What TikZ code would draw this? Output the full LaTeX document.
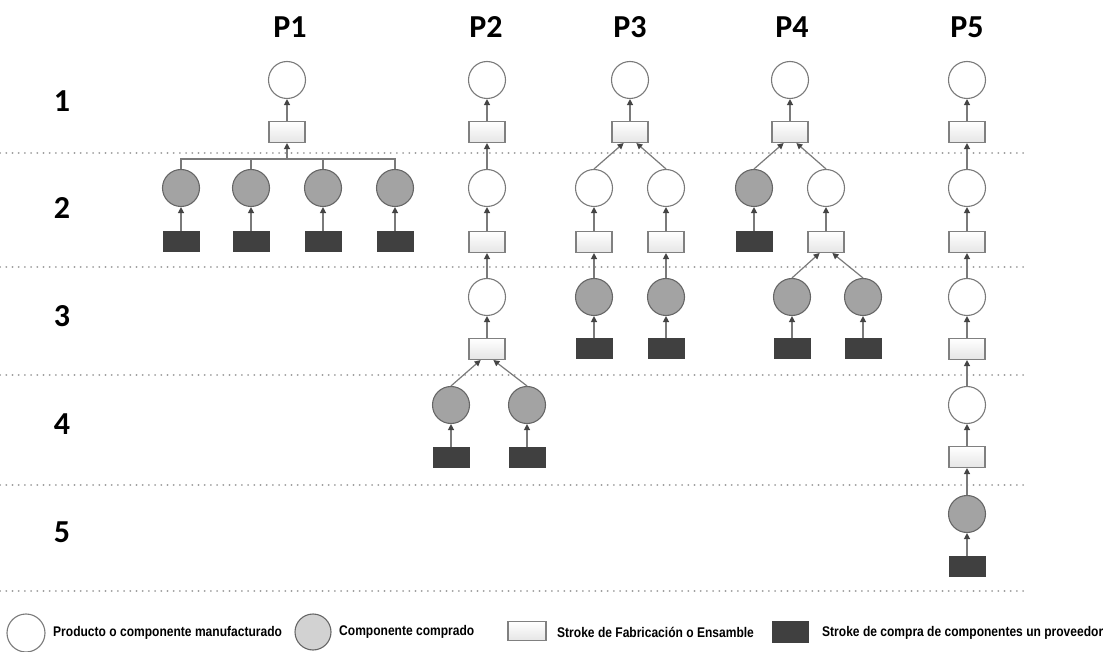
\documentclass[tikz,border=0pt]{standalone}
\usepackage{fontspec}
\setmainfont{Liberation Sans}
\newfontfamily\hdfont{Carlito}
\newfontfamily\lgfont[FakeStretch=0.86]{Liberation Sans}
\usetikzlibrary{arrows.meta}

\definecolor{lineGray}{HTML}{7A7A7A}
\definecolor{tipGray}{HTML}{444444}
\definecolor{buyGray}{HTML}{A3A3A3}
\definecolor{provGray}{HTML}{404040}
\definecolor{sepGray}{HTML}{A0A0A0}

\begin{document}
\begin{tikzpicture}[x=1pt,y=-1pt,
  mfg/.style={circle, draw=lineGray, line width=1.1pt, fill=white, minimum size=37pt, inner sep=0pt},
  buy/.style={circle, draw=gray!80!black, line width=1.1pt, fill=buyGray, minimum size=37pt, inner sep=0pt},
  fab/.style={rectangle, draw=gray, line width=1.1pt, top color=white, bottom color=gray!20, minimum width=36pt, minimum height=21pt, inner sep=0pt},
  prov/.style={rectangle, draw=black!75, line width=1pt, fill=provGray, minimum width=36pt, minimum height=20pt, inner sep=0pt},
  arr/.style={draw=lineGray, line width=1.2pt, -{Triangle[length=6pt,width=6pt,color=tipGray]}},
  bus/.style={draw=lineGray, line width=1.2pt},
  sep/.style={draw=sepGray, line width=1.8pt, line cap=round, dash pattern=on 0.2pt off 6pt},
  hd/.style={font=\hdfont\bfseries\fontsize{32}{36}\selectfont, anchor=base, inner sep=0pt},
  lg/.style={font=\lgfont\bfseries\fontsize{14}{16}\selectfont, anchor=base west, inner sep=0pt}]
\useasboundingbox (0,0) rectangle (1109,652);

% level separators
\draw[sep] (0,153) -- (1028,153);
\draw[sep] (0,267) -- (1028,267);
\draw[sep] (0,375) -- (1028,375);
\draw[sep] (0,485) -- (1028,485);
\draw[sep] (0,591) -- (1028,591);

% headers
\node[hd] (h1) at (290,38) {P1};
\node[hd] (h2) at (486,38) {P2};
\node[hd] (h3) at (630,38) {P3};
\node[hd] (h4) at (792,38) {P4};
\node[hd] (h5) at (967,38) {P5};
\node[hd] (l1) at (62,112) {1};
\node[hd] (l2) at (62,219) {2};
\node[hd] (l3) at (62,327) {3};
\node[hd] (l4) at (62,434) {4};
\node[hd] (l5) at (62,542) {5};

% P1
\node[mfg] (p1c1) at (287,80) {};
\node[fab] (p1r1) at (287,132) {};
\coordinate (p1bus) at (287,159);
\node[buy] (p1g1) at (181,188) {};
\node[buy] (p1g2) at (251,188) {};
\node[buy] (p1g3) at (323,188) {};
\node[buy] (p1g4) at (395,188) {};
\node[prov] (p1b1) at (181,242) {};
\node[prov] (p1b2) at (251,242) {};
\node[prov] (p1b3) at (323,242) {};
\node[prov] (p1b4) at (395,242) {};
\draw[arr](p1r1) -- (p1c1);
\draw[arr](p1bus) -- (p1r1);
\draw[bus](p1g1.north) |- (p1bus);
\draw[bus](p1g2.north) |- (p1bus);
\draw[bus](p1g3.north) |- (p1bus);
\draw[bus](p1g4.north) |- (p1bus);
\draw[arr](p1b1) -- (p1g1);
\draw[arr](p1b2) -- (p1g2);
\draw[arr](p1b3) -- (p1g3);
\draw[arr](p1b4) -- (p1g4);

% P2
\node[mfg] (p2c1) at (487,80) {};
\node[fab] (p2r1) at (487,132) {};
\node[mfg] (p2c2) at (487,188) {};
\node[fab] (p2r2) at (487,242) {};
\node[mfg] (p2c3) at (487,297) {};
\node[fab] (p2r3) at (487,349) {};
\node[buy] (p2g1) at (451,405) {};
\node[buy] (p2g2) at (527,405) {};
\node[prov] (p2b1) at (451,457) {};
\node[prov] (p2b2) at (527,457) {};
\draw[arr](p2r1) -- (p2c1);
\draw[arr](p2c2) -- (p2r1);
\draw[arr](p2r2) -- (p2c2);
\draw[arr](p2c3) -- (p2r2);
\draw[arr](p2r3) -- (p2c3);
\draw[arr](p2g1.north) -- (p2r3.240);
\draw[arr](p2g2.north) -- (p2r3.300);
\draw[arr](p2b1) -- (p2g1);
\draw[arr](p2b2) -- (p2g2);

% P3
\node[mfg] (p3c1) at (630,80) {};
\node[fab] (p3r1) at (630,132) {};
\node[mfg] (p3c2) at (594,188) {};
\node[mfg] (p3c3) at (666,188) {};
\node[fab] (p3r2) at (594,242) {};
\node[fab] (p3r3) at (666,242) {};
\node[buy] (p3g1) at (594,297) {};
\node[buy] (p3g2) at (666,297) {};
\node[prov] (p3b1) at (594,349) {};
\node[prov] (p3b2) at (666,349) {};
\draw[arr](p3r1) -- (p3c1);
\draw[arr](p3c2.north) -- (p3r1.240);
\draw[arr](p3c3.north) -- (p3r1.300);
\draw[arr](p3r2) -- (p3c2);
\draw[arr](p3r3) -- (p3c3);
\draw[arr](p3g1) -- (p3r2);
\draw[arr](p3g2) -- (p3r3);
\draw[arr](p3b1) -- (p3g1);
\draw[arr](p3b2) -- (p3g2);

% P4
\node[mfg] (p4c1) at (790,80) {};
\node[fab] (p4r1) at (790,132) {};
\node[buy] (p4g1) at (754,188) {};
\node[prov] (p4b1) at (754,242) {};
\node[mfg] (p4c2) at (826,188) {};
\node[fab] (p4r2) at (826,242) {};
\node[buy] (p4g2) at (792,297) {};
\node[buy] (p4g3) at (863,297) {};
\node[prov] (p4b2) at (792,349) {};
\node[prov] (p4b3) at (863,349) {};
\draw[arr](p4r1) -- (p4c1);
\draw[arr](p4g1.north) -- (p4r1.240);
\draw[arr](p4c2.north) -- (p4r1.300);
\draw[arr](p4b1) -- (p4g1);
\draw[arr](p4r2) -- (p4c2);
\draw[arr](p4g2.north) -- (p4r2.240);
\draw[arr](p4g3.north) -- (p4r2.300);
\draw[arr](p4b2) -- (p4g2);
\draw[arr](p4b3) -- (p4g3);

% P5
\node[mfg] (p5c1) at (967,80) {};
\node[fab] (p5r1) at (967,132) {};
\node[mfg] (p5c2) at (967,188) {};
\node[fab] (p5r2) at (967,242) {};
\node[mfg] (p5c3) at (967,297) {};
\node[fab] (p5r3) at (967,349) {};
\node[mfg] (p5c4) at (967,405) {};
\node[fab] (p5r4) at (967,457) {};
\node[buy] (p5g1) at (967,514) {};
\node[prov] (p5b1) at (967,566) {};
\draw[arr](p5r1) -- (p5c1);
\draw[arr](p5c2) -- (p5r1);
\draw[arr](p5r2) -- (p5c2);
\draw[arr](p5c3) -- (p5r2);
\draw[arr](p5r3) -- (p5c3);
\draw[arr](p5c4) -- (p5r3);
\draw[arr](p5r4) -- (p5c4);
\draw[arr](p5g1) -- (p5r4);
\draw[arr](p5b1) -- (p5g1);

% legend
\node[mfg, minimum size=38pt] (k1) at (26,633) {};
\node[lg] (t1) at (53,636) {Producto o componente manufacturado};
\node[buy, minimum size=36pt, fill=gray!35] (k2) at (313,632) {};
\node[lg] (t2) at (339,635) {Componente comprado};
\node[fab, minimum width=38pt, minimum height=19pt] (k3) at (527,631) {};
\node[lg] (t3) at (557,637) {Stroke de Fabricación o Ensamble};
\node[prov, minimum width=36pt, minimum height=21pt] (k4) at (790,632) {};
\node[lg] (t4) at (822,636) {Stroke de compra de componentes un proveedor};
\end{tikzpicture}
\end{document}
